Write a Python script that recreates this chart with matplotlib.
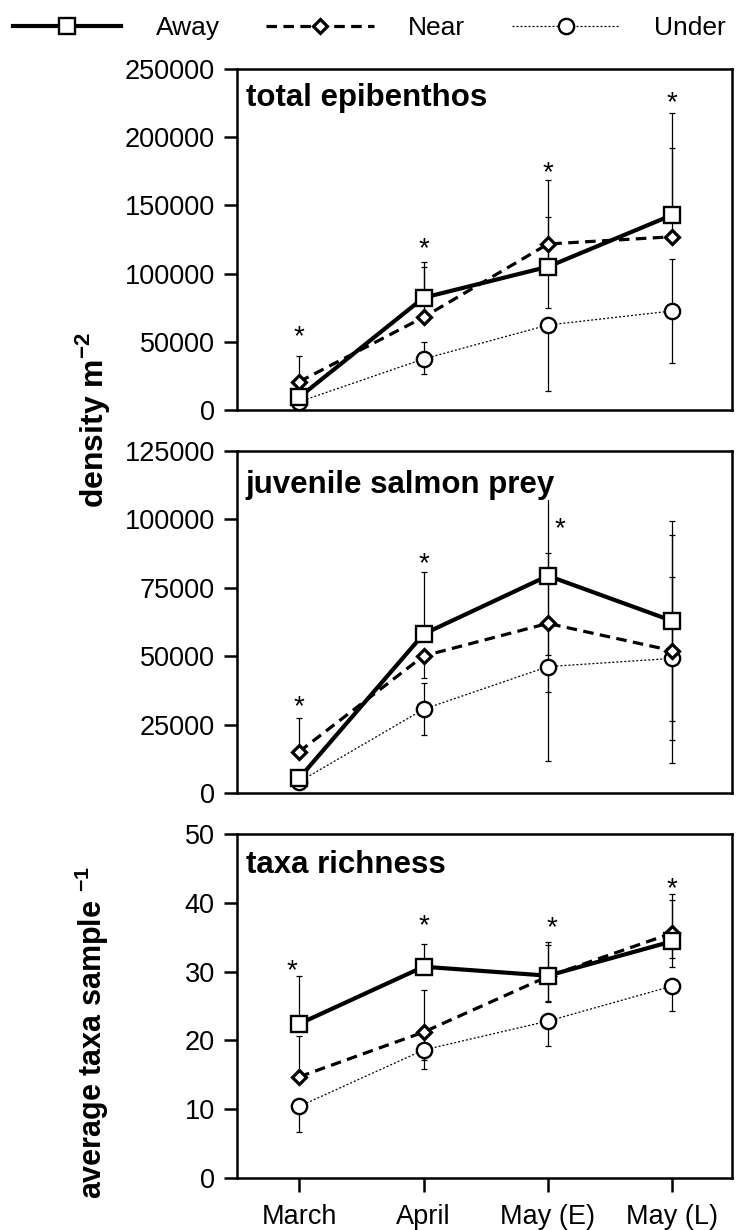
import matplotlib

matplotlib.use("Agg")
import matplotlib.pyplot as plt
from matplotlib import transforms as mtransforms
from matplotlib.lines import Line2D

plt.rcParams["font.family"] = ["Liberation Sans", "DejaVu Sans"]
plt.rcParams["mathtext.fontset"] = "custom"
plt.rcParams["mathtext.rm"] = "Liberation Sans"
plt.rcParams["mathtext.bf"] = "Liberation Sans:bold"

MONTHS = ["March", "April", "May (E)", "May (L)"]
SITES = ["Away", "Near", "Under"]

# total epibenthos, density m-2
epi_away = [9300, 82300, 105000, 143000]
epi_near = [20700, 68000, 121700, 127000]
epi_under = [6000, 37400, 62300, 72600]
epi_away_lo = [0, 0, 0, 0]
epi_away_hi = [0, 26000, 36700, 75000]
epi_near_lo = [0, 0, 47000, 0]
epi_near_hi = [19000, 36600, 46900, 64800]
epi_under_lo = [0, 11000, 48200, 38400]
epi_under_hi = [0, 12200, 0, 38400]
epi_star_x = [0, 1, 2, 3]
epi_star_y = [59400, 123900, 179600, 230900]
epi_yticks = [0, 50000, 100000, 150000, 200000, 250000]

# juvenile salmon prey, density m-2
prey_away = [5400, 58100, 79400, 62900]
prey_near = [15100, 50100, 62000, 52000]
prey_under = [4100, 30600, 46200, 49200]
prey_away_lo = [0, 0, 42400, 36600]
prey_away_hi = [0, 22800, 30600, 36600]
prey_near_lo = [0, 8000, 11600, 32600]
prey_near_hi = [12200, 0, 25600, 42300]
prey_under_lo = [0, 9400, 34500, 38300]
prey_under_hi = [0, 9500, 0, 29900]
prey_star_x = [0, 1, 2.1]
prey_star_y = [34400, 86600, 99400]
prey_yticks = [0, 25000, 50000, 75000, 100000, 125000]

# taxa richness, average taxa per sample
taxa_away = [22.4, 30.7, 29.4, 34.4]
taxa_near = [14.7, 21.2, 29.3, 35.6]
taxa_under = [10.4, 18.6, 22.8, 27.9]
taxa_away_lo = [0, 0, 3.8, 2.5]
taxa_away_hi = [6.9, 3.3, 4.9, 6.8]
taxa_near_lo = [0, 4.1, 3.6, 4.9]
taxa_near_hi = [5.9, 6.1, 4.6, 4.8]
taxa_under_lo = [3.7, 2.8, 3.6, 3.7]
taxa_under_hi = [0, 0, 0, 0]
taxa_star_x = [-0.06, 1, 2.03, 3]
taxa_star_y = [31.2, 37.8, 37.5, 43.2]
taxa_yticks = [0, 10, 20, 30, 40, 50]

STYLE = {
    "Away": dict(color="black", lw=3.0, ls="-", marker="s", ms=11,
                 mfc="white", mec="black", mew=1.7),
    "Near": dict(color="black", lw=2.3, ls=(0, (3.3, 2.0)), marker="D", ms=7.4,
                 mfc="white", mec="black", mew=2.3),
    "Under": dict(color="black", lw=0.9, ls=(0, (1.6, 1.6)), marker="o", ms=11,
                  mfc="white", mec="black", mew=1.7),
}
ZORDER = {"Under": 3, "Near": 4, "Away": 5}

PANELS = [
    dict(title="total epibenthos", rect=[0.322, 0.6667, 0.6726, 0.2772], title_y=0.8915,
         means={"Away": epi_away, "Near": epi_near, "Under": epi_under},
         lo={"Away": epi_away_lo, "Near": epi_near_lo, "Under": epi_under_lo},
         hi={"Away": epi_away_hi, "Near": epi_near_hi, "Under": epi_under_hi},
         star_x=epi_star_x, star_y=epi_star_y, yticks=epi_yticks),
    dict(title="juvenile salmon prey", rect=[0.322, 0.3553, 0.6726, 0.278], title_y=0.878,
         means={"Away": prey_away, "Near": prey_near, "Under": prey_under},
         lo={"Away": prey_away_lo, "Near": prey_near_lo, "Under": prey_under_lo},
         hi={"Away": prey_away_hi, "Near": prey_near_hi, "Under": prey_under_hi},
         star_x=prey_star_x, star_y=prey_star_y, yticks=prey_yticks),
    dict(title="taxa richness", rect=[0.322, 0.0423, 0.6726, 0.2797], title_y=0.887,
         means={"Away": taxa_away, "Near": taxa_near, "Under": taxa_under},
         lo={"Away": taxa_away_lo, "Near": taxa_near_lo, "Under": taxa_under_lo},
         hi={"Away": taxa_away_hi, "Near": taxa_near_hi, "Under": taxa_under_hi},
         star_x=taxa_star_x, star_y=taxa_star_y, yticks=taxa_yticks),
]

fig = plt.figure(figsize=(7.36, 12.3), dpi=100)
x = list(range(len(MONTHS)))

for i, p in enumerate(PANELS):
    ax = fig.add_axes(p["rect"])
    for site in ["Under", "Near", "Away"]:
        ax.errorbar(x, p["means"][site], yerr=[p["lo"][site], p["hi"][site]],
                    fmt="none", ecolor="black", elinewidth=0.9, capsize=2.2,
                    capthick=0.9, zorder=2)
    for site in ["Under", "Near", "Away"]:
        ax.plot(x, p["means"][site], clip_on=False, zorder=ZORDER[site], **STYLE[site])

    star_tr = mtransforms.offset_copy(ax.transData, fig=fig, y=-15, units="dots")
    for sx, sy in zip(p["star_x"], p["star_y"]):
        ax.text(sx, sy, "*", transform=star_tr, ha="center", va="baseline",
                fontsize=20, zorder=6)

    ax.text(0.018, p["title_y"], p["title"], transform=ax.transAxes, fontsize=22.5,
            fontweight="bold", ha="left", va="baseline", zorder=7,
            bbox=dict(facecolor="white", edgecolor="none", pad=0.5))

    ax.set_xlim(-0.5, 3.48)
    ax.set_ylim(p["yticks"][0], p["yticks"][-1])
    ax.set_yticks(p["yticks"])
    ax.set_yticklabels([str(t) for t in p["yticks"]])
    ax.tick_params(axis="y", direction="out", length=9.5, width=1.8, pad=6.5,
                   labelsize=19.5, right=False)
    if i == len(PANELS) - 1:
        ax.set_xticks(x)
        ax.set_xticklabels(MONTHS)
        ax.tick_params(axis="x", direction="out", length=10, width=1.8, pad=9,
                       labelsize=19.5, top=False)
    else:
        ax.set_xticks([])
    for sp in ax.spines.values():
        sp.set_linewidth(1.8)

fig.text(92 / 736, 1 - 420 / 1230, r"density m$^{\mathbf{-2}}$", rotation=90,
         fontsize=23, fontweight="bold", ha="center", va="center")
fig.text(92 / 736, 1 - 1032 / 1230, r"average taxa sample $^{\mathbf{-1}}$", rotation=90,
         fontsize=22, fontweight="bold", ha="center", va="center")

handles = [Line2D([], [], **STYLE[s]) for s in SITES]
fig.legend(handles, SITES, loc="center left", bbox_to_anchor=(13 / 736, 1 - 28 / 1230),
           ncol=3, frameon=False, fontsize=19, handlelength=4.1, handletextpad=1.3,
           columnspacing=1.75, borderpad=0, borderaxespad=0, numpoints=1)

fig.savefig("out.png", dpi=100)
